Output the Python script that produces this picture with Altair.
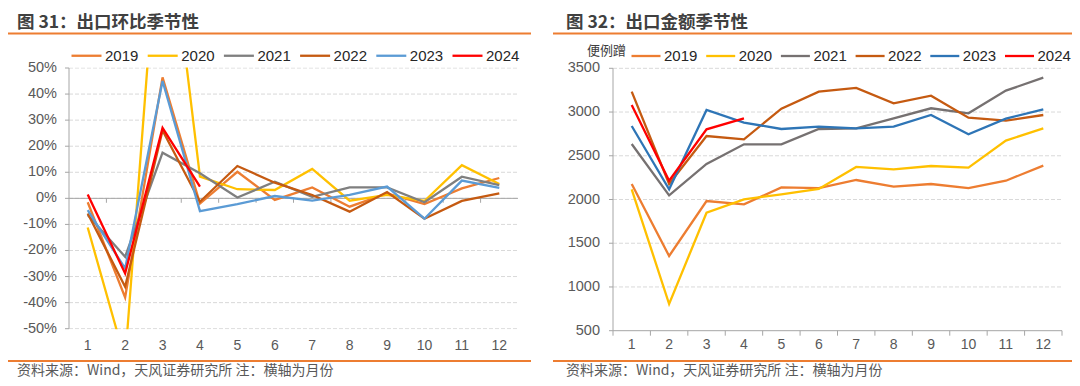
import altair as alt
import pandas as pd

# ---------------- data ----------------
months = list(range(1, 13))
years = ["2019", "2020", "2021", "2022", "2023", "2024"]

# 出口环比 (%)
mom_2019 = [-1.5, -38.0, 46.4, -2.0, 10.2, -0.6, 4.2, -3.2, 1.9, -2.2, 3.8, 7.8]
mom_2020 = [-11.2, -62.0, 127.0, 8.3, 3.5, 3.2, 11.3, -0.9, 1.3, -1.0, 12.7, 5.5]
mom_2021 = [-6.4, -22.4, 17.5, 9.6, 0.3, 6.4, 0.6, 4.2, 4.2, -1.5, 8.3, 5.1]
mom_2022 = [-5.8, -33.9, 26.0, -1.3, 12.4, 6.0, 1.3, -5.1, 2.4, -7.8, -1.0, 1.9]
mom_2023 = [-4.5, -26.9, 45.0, -4.9, -2.2, 0.9, -0.9, 1.3, 4.5, -7.8, 6.8, 4.0]
mom_2024 = [1.5, -28.8, 27.0, 4.5]

# 出口金额 (亿美元)
amt_2019 = [2177, 1354, 1983, 1944, 2139, 2131, 2223, 2147, 2177, 2131, 2215, 2387]
amt_2020 = [2116, 805, 1849, 2002, 2059, 2120, 2372, 2345, 2383, 2364, 2673, 2814]
amt_2021 = [2635, 2047, 2406, 2631, 2631, 2806, 2814, 2928, 3043, 2985, 3245, 3393]
amt_2022 = [3233, 2177, 2726, 2688, 3039, 3233, 3275, 3100, 3187, 2936, 2901, 2966]
amt_2023 = [2840, 2116, 3023, 2879, 2806, 2833, 2814, 2833, 2966, 2745, 2924, 3031]
amt_2024 = [3081, 2215, 2802, 2928]

left_ticks = [-50, -40, -30, -20, -10, 0, 10, 20, 30, 40, 50]
left_tick_labels = ["-50%", "-40%", "-30%", "-20%", "-10%", "0%", "10%", "20%", "30%", "40%", "50%"]
right_ticks = [500, 1000, 1500, 2000, 2500, 3000, 3500]
right_tick_labels = ["500", "1000", "1500", "2000", "2500", "3000", "3500"]

left_title = "图 31：出口环比季节性"
right_title = "图 32：出口金额季节性"
unit_label = "便例蹭"
footer = "资料来源：Wind，天风证券研究所 注：横轴为月份"

left_colors = ["#ED7D31", "#FFC000", "#7F7F7F", "#C55A11", "#5B9BD5", "#FF0000"]
right_colors = ["#ED7D31", "#FFC000", "#767171", "#C55A11", "#2E75B6", "#FF0000"]
left_widths = [2.3, 2.3, 2.3, 2.3, 2.3, 3.6]
right_widths = [2.3, 2.3, 3.6, 2.3, 2.3, 3.6]


def long_df(series):
    rows = []
    for y, vals in zip(years, series):
        for m, v in zip(months, vals):
            rows.append({"month": m, "year": y, "value": v})
    return pd.DataFrame(rows)


left_df = long_df([mom_2019, mom_2020, mom_2021, mom_2022, mom_2023, mom_2024])
right_df = long_df([amt_2019, amt_2020, amt_2021, amt_2022, amt_2023, amt_2024])

left_tick_df = pd.DataFrame({"v": left_ticks, "label": left_tick_labels})
right_tick_df = pd.DataFrame({"v": right_ticks, "label": right_tick_labels})
month_df = pd.DataFrame({"month": months, "label": [str(m) for m in months]})
left_bound_df = pd.DataFrame({"b": [m + 0.5 for m in months[:-1]]})
right_bound_df = pd.DataFrame({"b": [m - 0.5 for m in months] + [12.5]})
left_axis_df = pd.DataFrame({"lo": [-50], "hi": [50], "z": [0], "zt": [-1.7]})
right_axis_df = pd.DataFrame({"lo": [500], "hi": [3500], "zt": [443]})

GRID = "#D9D9D9"
AXIS = "#A6A6A6"
TXT = "#595959"
ORANGE = "#ED7D31"
LATIN = "Liberation Sans"
CJK = "Noto Sans CJK SC"

one = pd.DataFrame({"a": [0]})


def xL():
    return alt.Scale(domain=[0.5, 12.5], range=[61, 510])


def yL():
    return alt.Scale(domain=[-50, 50], range=[320.7, 60], zero=False, nice=False)


def xR():
    return alt.Scale(domain=[0.5, 12.5], range=[605, 1054])


def yR():
    return alt.Scale(domain=[500, 3500], range=[322.7, 60.3], zero=False, nice=False)


# ---------------- left panel ----------------
gridL = alt.Chart(left_tick_df).mark_rule(color=GRID, strokeDash=[4, 2], strokeWidth=1).encode(
    y=alt.Y("v:Q", scale=yL(), axis=None), x=alt.value(61), x2=alt.value(510))
yaxL = alt.Chart(left_axis_df).mark_rule(color=AXIS, strokeWidth=1).encode(
    x=alt.value(61), y=alt.Y("lo:Q", scale=yL(), axis=None), y2="hi:Q")
zeroL = alt.Chart(left_axis_df).mark_rule(color=AXIS, strokeWidth=1).encode(
    y=alt.Y("z:Q", scale=yL(), axis=None), x=alt.value(61), x2=alt.value(510))
zeroTicksL = alt.Chart(left_bound_df).transform_calculate(z="0", zt="-1.7").mark_rule(
    color=AXIS, strokeWidth=1).encode(
    x=alt.X("b:Q", scale=xL(), axis=None), y=alt.Y("z:Q", scale=yL(), axis=None), y2="zt:Q")
linesL = alt.Chart(left_df).mark_line(strokeJoin="miter").encode(
    x=alt.X("month:Q", scale=xL(), axis=None),
    y=alt.Y("value:Q", scale=yL(), axis=None),
    color=alt.Color("year:N", scale=alt.Scale(domain=years, range=left_colors),
                    legend=alt.Legend(orient="none", legendX=62, legendY=31, direction="horizontal",
                                      title=None, symbolType="stroke", symbolSize=900,
                                      symbolStrokeWidth=2.8,
                                      labelFontSize=15, labelFont=LATIN, labelColor="#262626",
                                      labelOffset=2, columnPadding=3.2, padding=0)),
    strokeWidth=alt.StrokeWidth("year:N", scale=alt.Scale(domain=years, range=left_widths),
                                legend=None),
    order=alt.Order("month:Q"),
)
maskL = alt.Chart(one).mark_rect(color="white").encode(
    x=alt.value(50), x2=alt.value(530), y=alt.value(0), y2=alt.value(59.5))
maskL2 = alt.Chart(one).mark_rect(color="white").encode(
    x=alt.value(50), x2=alt.value(530), y=alt.value(321.2), y2=alt.value(352))
yTicksL = alt.Chart(left_tick_df).mark_rule(color=AXIS, strokeWidth=1).encode(
    y=alt.Y("v:Q", scale=yL(), axis=None), x=alt.value(57), x2=alt.value(61))
yLabL = alt.Chart(left_tick_df).mark_text(align="right", baseline="middle", fontSize=14.5,
                                          font=LATIN, color=TXT).encode(
    y=alt.Y("v:Q", scale=yL(), axis=None), x=alt.value(49), text="label:N")
xLabL = alt.Chart(month_df).mark_text(align="center", baseline="middle", fontSize=14,
                                      font=LATIN, color=TXT).encode(
    x=alt.X("month:Q", scale=xL(), axis=None), y=alt.value(338), text="label:N")

# ---------------- right panel ----------------
gridR = alt.Chart(right_tick_df[right_tick_df.v > 500]).mark_rule(
    color=GRID, strokeDash=[4, 2], strokeWidth=1).encode(
    y=alt.Y("v:Q", scale=yR(), axis=None), x=alt.value(605), x2=alt.value(1054))
yaxR = alt.Chart(right_axis_df).mark_rule(color=AXIS, strokeWidth=1).encode(
    x=alt.value(605), y=alt.Y("lo:Q", scale=yR(), axis=None), y2="hi:Q")
xaxR = alt.Chart(right_axis_df).mark_rule(color=AXIS, strokeWidth=1).encode(
    y=alt.Y("lo:Q", scale=yR(), axis=None), x=alt.value(605), x2=alt.value(1054))
xTicksR = alt.Chart(right_bound_df).transform_calculate(z="500", zt="443").mark_rule(
    color=AXIS, strokeWidth=1).encode(
    x=alt.X("b:Q", scale=xR(), axis=None), y=alt.Y("z:Q", scale=yR(), axis=None), y2="zt:Q")
yTicksR = alt.Chart(right_tick_df).mark_rule(color=AXIS, strokeWidth=1).encode(
    y=alt.Y("v:Q", scale=yR(), axis=None), x=alt.value(601), x2=alt.value(605))
linesR = alt.Chart(right_df).mark_line(strokeJoin="miter").encode(
    x=alt.X("month:Q", scale=xR(), axis=None),
    y=alt.Y("value:Q", scale=yR(), axis=None),
    color=alt.Color("year:N", scale=alt.Scale(domain=years, range=right_colors),
                    legend=alt.Legend(orient="none", legendX=622, legendY=32, direction="horizontal",
                                      title=None, symbolType="stroke", symbolSize=841,
                                      symbolStrokeWidth=2.8,
                                      labelFontSize=15, labelFont=LATIN, labelColor="#262626",
                                      labelOffset=2, columnPadding=2.7, padding=0)),
    strokeWidth=alt.StrokeWidth("year:N", scale=alt.Scale(domain=years, range=right_widths),
                                legend=None),
    order=alt.Order("month:Q"),
)
yLabR = alt.Chart(right_tick_df).mark_text(align="right", baseline="middle", fontSize=14.5,
                                           font=LATIN, color=TXT).encode(
    y=alt.Y("v:Q", scale=yR(), axis=None), x=alt.value(592), text="label:N")
xLabR = alt.Chart(month_df).mark_text(align="center", baseline="middle", fontSize=14,
                                      font=LATIN, color=TXT).encode(
    x=alt.X("month:Q", scale=xR(), axis=None), y=alt.value(337), text="label:N")


# ---------------- decorations ----------------
def text_at(s, x, y, size, color, font, weight="normal"):
    return alt.Chart(pd.DataFrame({"t": [s]})).mark_text(
        align="left", baseline="middle", fontSize=size, font=font, color=color,
        fontWeight=weight).encode(x=alt.value(x), y=alt.value(y), text="t:N")


def hrule(x1, x2, y):
    return alt.Chart(one).mark_rule(color=ORANGE, strokeWidth=2).encode(
        x=alt.value(x1), x2=alt.value(x2), y=alt.value(y))


chart = alt.layer(
    gridL, yaxL, zeroL, zeroTicksL, linesL, maskL, maskL2, yTicksL, yLabL, xLabL,
    gridR, yaxR, xaxR, xTicksR, yTicksR, linesR, yLabR, xLabR,
    text_at(left_title, 9, 14.5, 17.5, "#404040", CJK, "bold"),
    text_at(right_title, 558, 14.5, 17.5, "#404040", CJK, "bold"),
    text_at(unit_label, 579, 43, 13, "#404040", CJK),
    text_at(footer, 9, 362.5, 14, TXT, CJK),
    text_at(footer, 558, 362.5, 14, TXT, CJK),
    hrule(0, 523, 25.6),
    hrule(545, 1064, 25.6),
    hrule(0, 523, 353),
    hrule(545, 1064, 353),
).resolve_scale(
    x="independent", y="independent", color="independent", strokeWidth="independent"
).properties(
    width=1064, height=370, padding=0, background="white",
    autosize=alt.AutoSizeParams(type="none"),
).configure_view(strokeWidth=0)

chart.save("out.html", embed_options={"renderer": "svg", "actions": False})
